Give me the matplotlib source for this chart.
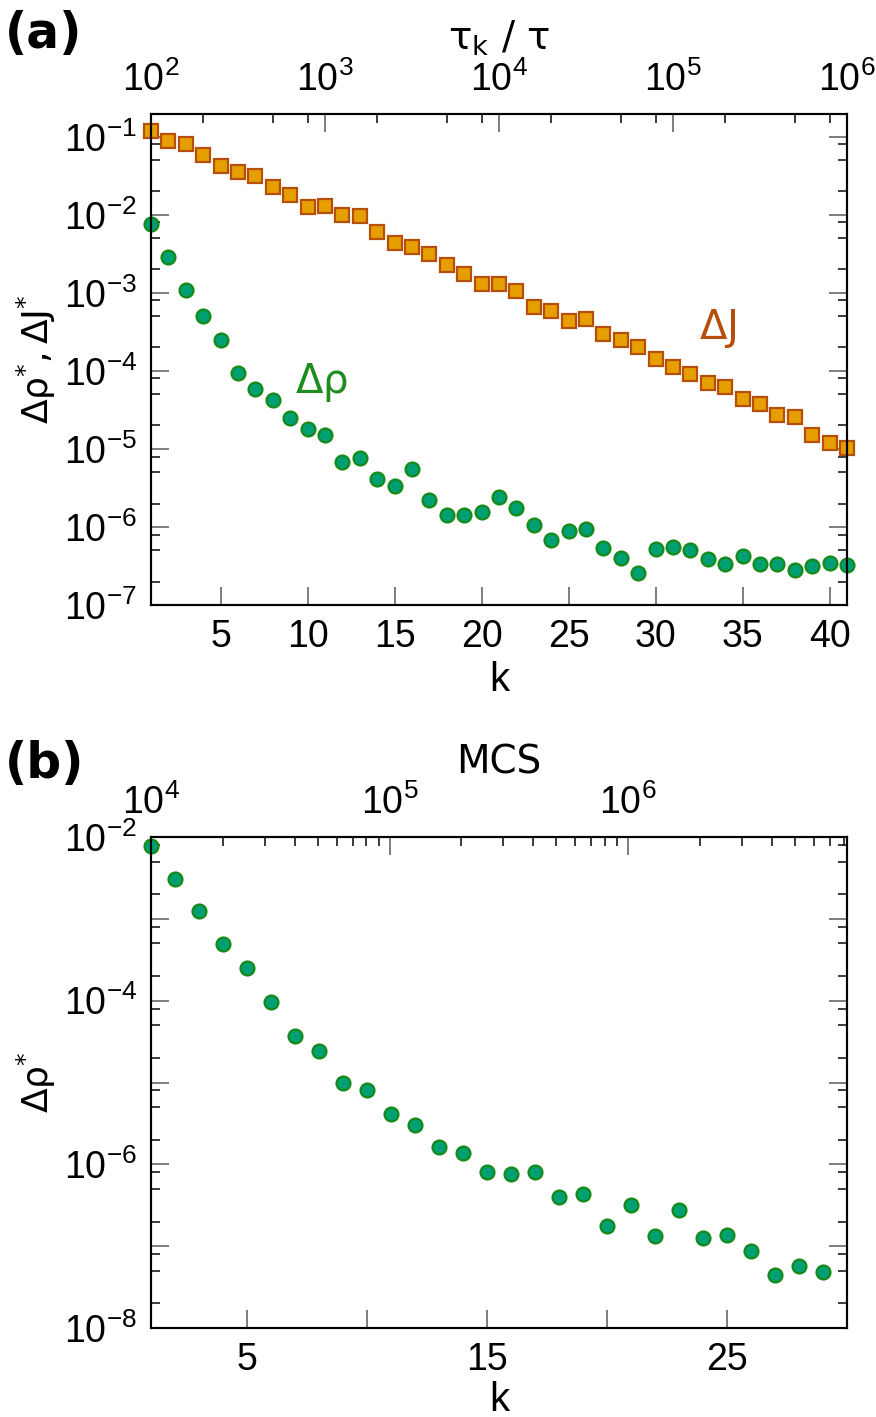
import numpy as np
import matplotlib.pyplot as plt
from matplotlib.ticker import LogLocator, MultipleLocator, FuncFormatter, NullFormatter, NullLocator

# panel (a): k = 1..41
k_a = np.arange(1, 42)
dJ = [0.119, 0.088, 0.080, 0.0577, 0.042, 0.0352, 0.031, 0.0226, 0.0179, 0.0127,
      0.0130, 0.0100, 0.0096, 0.00605, 0.00438, 0.00382, 0.00313, 0.00224, 0.00174, 0.00128,
      0.00128, 0.00107, 6.62e-4, 5.82e-4, 4.38e-4, 4.6e-4, 2.93e-4, 2.48e-4, 2.03e-4, 1.40e-4,
      1.11e-4, 9.16e-5, 7.02e-5, 6.23e-5, 4.38e-5, 3.71e-5, 2.73e-5, 2.60e-5, 1.50e-5, 1.19e-5,
      1.03e-5]
drho_a = [7.53e-3, 2.90e-3, 1.10e-3, 5.02e-4, 2.52e-4, 9.42e-5, 5.87e-5, 4.25e-5, 2.52e-5, 1.82e-5,
          1.50e-5, 6.75e-6, 7.60e-6, 4.12e-6, 3.36e-6, 5.61e-6, 2.24e-6, 1.41e-6, 1.41e-6, 1.57e-6,
          2.43e-6, 1.75e-6, 1.07e-6, 6.89e-7, 8.8e-7, 9.41e-7, 5.38e-7, 4.01e-7, 2.60e-7, 5.18e-7,
          5.54e-7, 5.13e-7, 3.89e-7, 3.36e-7, 4.21e-7, 3.33e-7, 3.33e-7, 2.81e-7, 3.16e-7, 3.45e-7,
          3.23e-7]

# panel (b): k = 1..29
k_b = np.arange(1, 30)
drho_b = [7.67e-3, 3.03e-3, 1.26e-3, 4.94e-4, 2.54e-4, 9.72e-5, 3.66e-5, 2.42e-5, 1.0e-5, 8.14e-6,
          4.10e-6, 3.04e-6, 1.61e-6, 1.39e-6, 8.16e-7, 7.57e-7, 8.07e-7, 3.95e-7, 4.30e-7, 1.76e-7,
          3.16e-7, 1.32e-7, 2.80e-7, 1.27e-7, 1.37e-7, 8.81e-8, 4.48e-8, 5.70e-8, 4.88e-8]

orange_face = '#E69F00'
orange_edge = '#B84E0C'
green_face = '#009E73'
green_edge = '#168A16'
tick_font = ['Liberation Sans', 'DejaVu Sans']

plt.rcParams['font.family'] = ['DejaVu Sans']
plt.rcParams['axes.linewidth'] = 1.5


def pow_fmt(step=1):
    def f(v, pos):
        e = int(round(np.log10(v)))
        if e % step:
            return ''
        return r'$\mathregular{10^{%d}}$' % e
    return f


def style_ticks(ax, pad=10):
    ax.tick_params(which='major', direction='in', length=13, width=1.3, color='0.45',
                   labelsize=27, pad=pad)
    ax.tick_params(which='minor', direction='in', length=6.5, width=1.2, color='0.1')
    for lab in ax.get_xticklabels() + ax.get_yticklabels():
        lab.set_family(tick_font)


fig = plt.figure(figsize=(8.76, 14.17), dpi=100)

# ---------------- panel (a)
ax1 = fig.add_axes([0.1724, 0.5730, 0.7945, 0.3465])
ax1.set_yscale('log')
ax1.plot(k_a, dJ, 's', ms=10, mfc=orange_face, mec=orange_edge, mew=1.6, clip_on=False)
ax1.plot(k_a, drho_a, 'o', ms=10, mfc=green_face, mec=green_edge, mew=1.6, clip_on=False)
ax1.set_xlim(1, 41)
ax1.set_ylim(1e-7, 0.195)
ax1.xaxis.set_major_locator(MultipleLocator(5))
ax1.xaxis.set_minor_locator(NullLocator())
ax1.yaxis.set_major_locator(LogLocator(base=10, numticks=20))
ax1.yaxis.set_minor_locator(LogLocator(base=10, subs=(2, 5, 8), numticks=20))
ax1.yaxis.set_major_formatter(FuncFormatter(pow_fmt()))
ax1.yaxis.set_minor_formatter(NullFormatter())
ax1.tick_params(which='both', top=False, right=True)
style_ticks(ax1)
ax1.set_xlabel('k', fontsize=29, family=tick_font, labelpad=4)
ax1.set_ylabel(r'$\mathregular{\Delta\rho^{*}, \Delta J^{*}}$', fontsize=26, labelpad=4)
ax1.text(33.6, 3.5e-4, r'$\mathregular{\Delta J}$', color=orange_edge, fontsize=29,
         ha='center', va='center')
ax1.text(10.8, 7.2e-5, r'$\mathregular{\Delta\rho}$', color='#1E8C1E', fontsize=29,
         ha='center', va='center')

top1 = ax1.twiny()
top1.set_xscale('log')
top1.set_xlim(1e2, 1e6)
top1.xaxis.set_major_locator(LogLocator(base=10, numticks=10))
top1.xaxis.set_minor_locator(LogLocator(base=10, subs=(2, 5, 8), numticks=10))
top1.xaxis.set_major_formatter(FuncFormatter(pow_fmt()))
top1.xaxis.set_minor_formatter(NullFormatter())
style_ticks(top1, pad=11)
top1.set_xlabel(r'$\mathregular{\tau_k\ /\ \tau}$', fontsize=28, labelpad=8)

fig.text(0.006, 0.993, '(a)', fontsize=35, fontweight='bold', va='top', ha='left')

# ---------------- panel (b)
ax2 = fig.add_axes([0.1724, 0.0628, 0.7945, 0.3465])
ax2.set_yscale('log')
ax2.plot(k_b, drho_b, 'o', ms=10, mfc=green_face, mec=green_edge, mew=1.6, clip_on=False)
ax2.set_xlim(1, 30)
ax2.set_ylim(1e-8, 1e-2)
ax2.xaxis.set_major_locator(MultipleLocator(5))
ax2.xaxis.set_major_formatter(FuncFormatter(lambda v, p: '%d' % v if int(v) % 10 == 5 else ''))
ax2.xaxis.set_minor_locator(NullLocator())
ax2.yaxis.set_major_locator(LogLocator(base=10, numticks=20))
ax2.yaxis.set_minor_locator(LogLocator(base=10, subs=(2, 5, 8), numticks=20))
ax2.yaxis.set_major_formatter(FuncFormatter(pow_fmt(2)))
ax2.yaxis.set_minor_formatter(NullFormatter())
ax2.tick_params(which='both', top=False, right=True)
style_ticks(ax2)
ax2.set_xlabel('k', fontsize=29, family=tick_font, labelpad=2)
ax2.set_ylabel(r'$\mathregular{\Delta\rho^{*}}$', fontsize=26, labelpad=4)

top2 = ax2.twiny()
top2.set_xscale('log')
top2.set_xlim(1e4, 8.26e6)
top2.xaxis.set_major_locator(LogLocator(base=10, numticks=10))
top2.xaxis.set_minor_locator(LogLocator(base=10, subs=np.arange(2, 10), numticks=10))
top2.xaxis.set_major_formatter(FuncFormatter(pow_fmt()))
top2.xaxis.set_minor_formatter(NullFormatter())
style_ticks(top2, pad=11)
top2.set_xlabel('MCS', fontsize=28, labelpad=8)

fig.text(0.006, 0.478, '(b)', fontsize=35, fontweight='bold', va='top', ha='left')

fig.savefig('out.png', dpi=100)
